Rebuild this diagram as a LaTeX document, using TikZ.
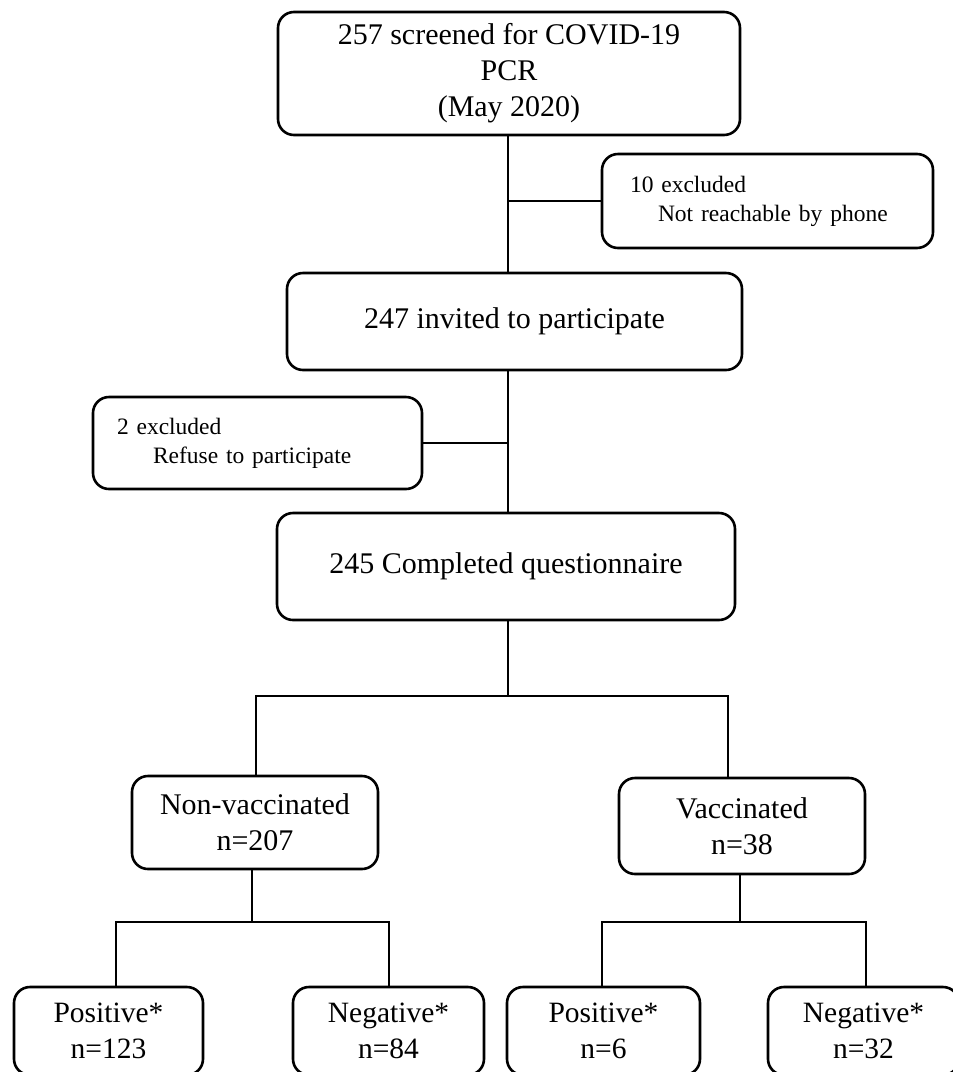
\documentclass[tikz,border=0pt]{standalone}
\usepackage{fontspec}
\setmainfont{Liberation Serif}
\begin{document}
\begin{tikzpicture}[x=1pt,y=-1pt,
  box/.style={draw, line width=2.6pt, rounded corners=16pt, align=center, inner sep=0pt},
  bigtxt/.style={font=\fontsize{30}{36}\selectfont},
  sidetxt/.style={font=\fontsize{23.5}{29}\selectfont, align=left},
  smalltxt/.style={font=\fontsize{29.5}{36}\selectfont},
  link/.style={line width=2.6pt}]
\clip (0,0) rectangle (953,1072);
\node[box,bigtxt,minimum width=462pt,minimum height=123pt] (top) at (509,73.5)
  {257 screened for COVID-19\\PCR\\(May 2020)};
\node[box,sidetxt,inner xsep=28pt,text width=275pt,minimum height=94pt] (side1) at (767.5,201)
  {10 excluded\\\hspace*{28pt}Not reachable by phone};
\node[box,bigtxt,minimum width=455pt,minimum height=97pt] (invite) at (514.5,321.5)
  {247 invited to participate};
\node[box,sidetxt,inner xsep=24pt,text width=281pt,minimum height=92pt] (side2) at (257.5,443)
  {2 excluded\\\hspace*{36pt}Refuse to participate};
\node[box,bigtxt,minimum width=458pt,minimum height=107pt] (done) at (506,566.5)
  {245 Completed questionnaire};
\node[box,bigtxt,minimum width=246pt,minimum height=93pt] (nonvac) at (255,822.5)
  {Non-vaccinated\\n=207};
\node[box,bigtxt,minimum width=246pt,minimum height=96pt] (vac) at (742,826)
  {Vaccinated\\n=38};
\node[box,smalltxt,minimum width=189pt,minimum height=88pt] (p1) at (108.5,1031)
  {Positive*\\n=123};
\node[box,smalltxt,minimum width=191pt,minimum height=88pt] (n1) at (388.5,1031)
  {Negative*\\n=84};
\node[box,smalltxt,minimum width=193pt,minimum height=88pt] (p2) at (603.5,1031)
  {Positive*\\n=6};
\node[box,smalltxt,minimum width=191pt,minimum height=88pt] (n2) at (863.5,1031)
  {Negative*\\n=32};
% spine coordinates
\coordinate (spine) at (508,0);
\coordinate (split) at (508,696);
\coordinate (lsplit) at (252,922);
\coordinate (rsplit) at (740,922);
% main spine
\draw[link] (top.south -| spine) -- (invite.north -| spine);
\draw[link] (spine |- side1.west) -- (side1.west);
\draw[link] (invite.south -| spine) -- (done.north -| spine);
\draw[link] (spine |- side2.east) -- (side2.east);
% first split
\draw[link] (done.south -| split) -- (split);
\draw[link] (256,776) -- (256,696) -- (728,696) -- (728,778);
% lower splits
\draw[link] (nonvac.south -| lsplit) -- (lsplit);
\draw[link] (116,987) -- (116,922) -- (389,922) -- (389,987);
\draw[link] (vac.south -| rsplit) -- (rsplit);
\draw[link] (602,987) -- (602,922) -- (866,922) -- (866,987);
\end{tikzpicture}
\end{document}
